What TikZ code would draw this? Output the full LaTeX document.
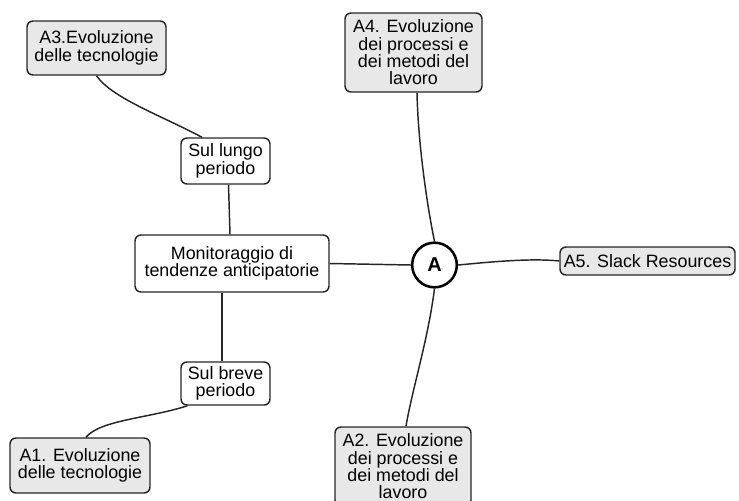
\documentclass[tikz,border=0pt]{standalone}
\usepackage{fontspec}
\setmainfont{Liberation Sans}
\usetikzlibrary{calc}
\begin{document}
\begin{tikzpicture}[x=0.75pt,y=-0.75pt,
  base/.style={draw=black!85, line width=1.1pt, rounded corners=4.5pt, align=center,
    inner sep=0pt, font=\fontsize{13.4}{13}\selectfont},
  leaf/.style={base, fill=black!9},
  mid/.style={base, fill=white},
  hub/.style={circle, draw=black, line width=1.9pt, fill=white, minimum size=33.5pt,
    inner sep=0pt, font=\fontsize{15}{15}\selectfont\bfseries},
  link/.style={draw=black!85, line width=1.1pt}]
\useasboundingbox (0,0) rectangle (739,500);
\clip (0,0) rectangle (739,500);

% concept boxes
\node[leaf, minimum width=104.25pt, minimum height=40.5pt] (a3) at (96.5,48)
  {A3.Evoluzione\\delle tecnologie};
\node[mid, minimum width=66.75pt, minimum height=34.5pt] (lungo) at (225.5,161)
  {Sul lungo\\periodo};
\node[leaf, minimum width=102.75pt, minimum height=59.25pt] (a4) at (413.5,52.5)
  {A4. Evoluzione\\dei processi e\\dei metodi del\\lavoro};
\node[mid, minimum width=145.5pt, minimum height=42.75pt] (mon) at (232,263.5)
  {Monitoraggio di\\tendenze anticipatorie};
\node[hub] (hubA) at (434.5,265) {A};
\node[leaf, minimum width=131.25pt, minimum height=21pt] (a5) at (647.5,261)
  {A5. Slack Resources};
\node[mid, minimum width=66.75pt, minimum height=32.25pt] (breve) at (225.5,383.5)
  {Sul breve\\periodo};
\node[leaf, minimum width=105pt, minimum height=41.25pt] (a1) at (80,465.5)
  {A1. Evoluzione\\delle tecnologie};
\node[leaf, minimum width=102pt, minimum height=59.25pt] (a2) at (403,466.5)
  {A2. Evoluzione\\dei processi e\\dei metodi del\\lavoro};

% connectors
\draw[link] (a3.south) .. controls (112,98) and (160,115) .. ($(lungo.north)+(-23.5,0)$);
\draw[link] ($(lungo.south)+(3,0)$) -- ($(mon.north)+(-2,0)$);
\draw[link] ($(mon.south)+(-10,0)$) -- ($(breve.north)+(-3.5,0)$);
\draw[link] ($(breve.south)+(-38,0)$) .. controls (150,418) and (100,420) .. ($(a1.north)+(6,0)$);
\draw[link] (mon.east) -- (hubA.west);
\draw[link] (hubA.north) .. controls (426,200) and (418,140) .. ($(a4.south)+(3.5,0)$);
\draw[link] (hubA.east) .. controls (490,262) and (530,258) .. (a5.west);
\draw[link] (hubA.south) .. controls (428,340) and (412,390) .. ($(a2.north)+(3,0)$);
\end{tikzpicture}
\end{document}
